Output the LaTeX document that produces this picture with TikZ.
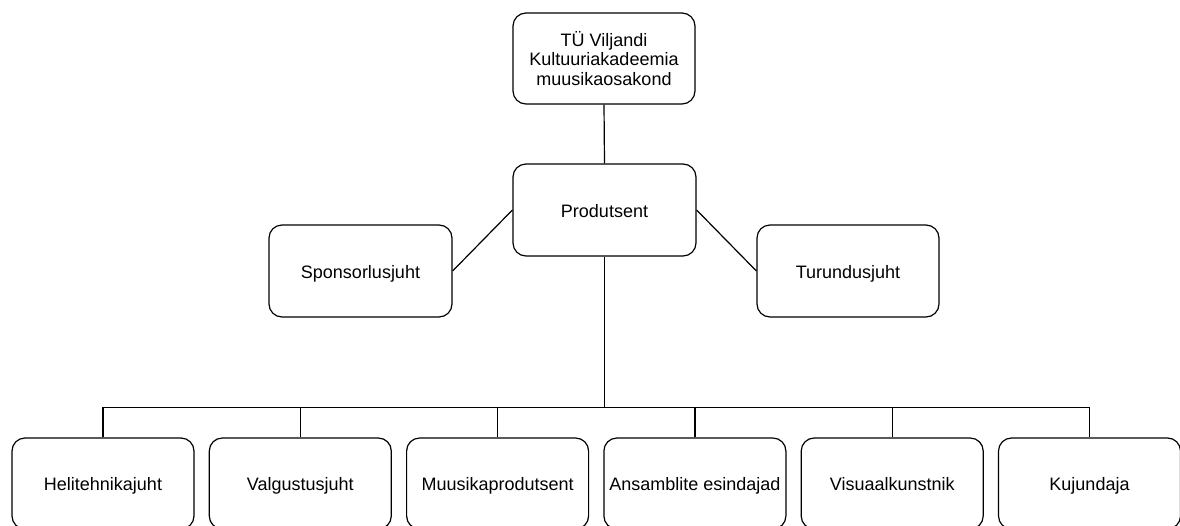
\documentclass[tikz,border=0pt]{standalone}
\usepackage{fontspec}
\setmainfont{Liberation Sans}
\begin{document}
\begin{tikzpicture}[x=1pt,y=-1pt,
  box/.style={draw=black,line width=1.2pt,rounded corners=13pt,fill=white,
    minimum width=182pt,minimum height=91pt,inner sep=2pt,align=center,
    font=\fontsize{18}{19.5}\selectfont},
  one/.style={text height=16pt,text depth=2pt},
  link/.style={draw=black,line width=1.2pt}]
\useasboundingbox (0,0) rectangle (1180,525);
\node[box] (top) at (604,58.5) {TÜ Viljandi\\Kultuuriakadeemia\\muusikaosakond};
\node[box,one,minimum width=183pt,minimum height=92pt] (prod) at (604.5,210) {Produtsent};
\node[box,one,minimum width=183pt,minimum height=92pt] (spons) at (360.5,271) {Sponsorlusjuht};
\node[box,one,minimum width=182pt,minimum height=92pt] (turu) at (848,271) {Turundusjuht};
\foreach \i/\t in {0/Helitehnikajuht,1/Valgustusjuht,2/Muusikaprodutsent,3/Ansamblite esindajad,4/Visuaalkunstnik,5/Kujundaja}{
  \node[box,one] (b\i) at (103+197.3*\i,483.5) {\t};
}
\coordinate (bus) at (604.5,407.5);
\draw[link] (top.south) -- (prod.north);
\draw[link] (prod.west) -- (spons.east);
\draw[link] (prod.east) -- (turu.west);
\draw[link] (prod.south) -- (bus);
\draw[link] (b0.north) |- (bus) -| (b5.north);
\foreach \i in {1,2,3,4}{
  \draw[link] (b\i.north) -- (b\i.north |- bus);
}
\end{tikzpicture}
\end{document}
